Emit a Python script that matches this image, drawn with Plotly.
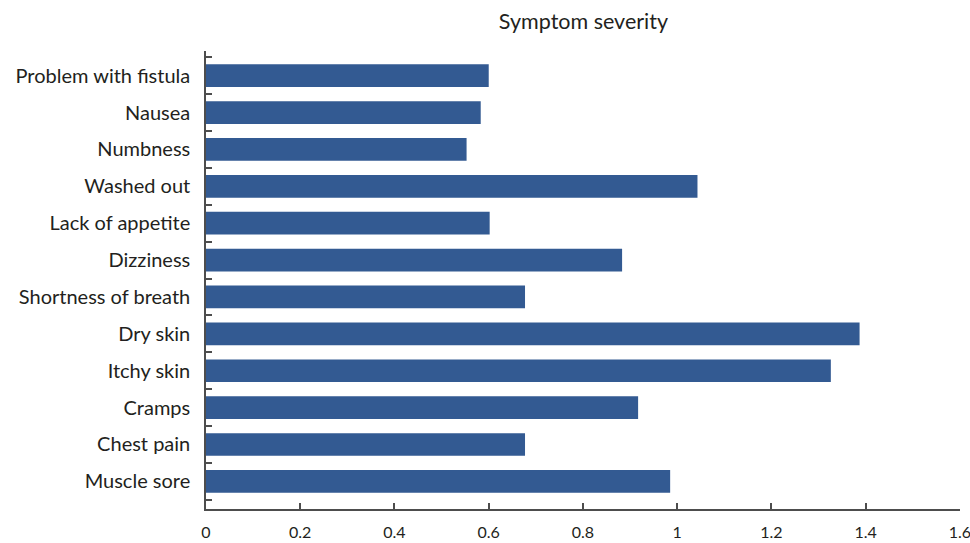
import plotly.graph_objects as go

symptoms = ["Muscle sore", "Chest pain", "Cramps", "Itchy skin", "Dry skin",
            "Shortness of breath", "Dizziness", "Lack of appetite", "Washed out",
            "Numbness", "Nausea", "Problem with fistula"]
severity = [0.985, 0.677, 0.917, 1.326, 1.387, 0.677, 0.883, 0.602, 1.043,
            0.553, 0.583, 0.600]
x_ticks = [0, 0.2, 0.4, 0.6, 0.8, 1, 1.2, 1.4, 1.6]
x_tick_labels = ["0", "0.2", "0.4", "0.6", "0.8", "1", "1.2", "1.4", "1.6"]

font_family = "Lato, Open Sans, sans-serif"
text_color = "#231f20"
axis_color = "#4d4d4d"

fig = go.Figure(go.Bar(
    x=severity, y=symptoms, orientation="h",
    marker=dict(color="#335a92", line=dict(width=0)),
))

fig.update_layout(
    width=970, height=543,
    margin=dict(l=206, r=10, t=51, b=34),
    paper_bgcolor="white", plot_bgcolor="white",
    bargap=0.385,
    showlegend=False,
    title=dict(text="Symptom severity", x=0.6015, xanchor="center", y=0.96, yanchor="middle",
               font=dict(family=font_family, size=21.5, color=text_color)),
    font=dict(family=font_family, color=text_color),
)
fig.update_xaxes(
    range=[0, 1.6001], tickvals=x_ticks, ticktext=x_tick_labels,
    automargin=False, ticklabeloverflow="allow",
    showline=True, linecolor=axis_color, linewidth=1.5,
    ticks="inside", ticklen=6, tickcolor=axis_color, tickwidth=1.5,
    showgrid=False, zeroline=False,
    tickfont=dict(family=font_family, size=16, color=text_color),
    ticklabelstandoff=8,
)
fig.update_yaxes(
    type="category", categoryorder="array", categoryarray=symptoms,
    range=[-0.75, 11.67],
    automargin=False, ticklabeloverflow="allow",
    showline=True, linecolor=axis_color, linewidth=1.5,
    ticks="inside", ticklen=6, tickcolor=axis_color, tickwidth=1.5,
    tickson="boundaries",
    showgrid=False, zeroline=False,
    tickfont=dict(family=font_family, size=20, color=text_color),
    ticklabelstandoff=10,
)

fig.write_html(
    "out.html",
    config={"displayModeBar": False},
    post_script="document.body.style.margin='0';document.body.style.overflow='hidden';",
)
